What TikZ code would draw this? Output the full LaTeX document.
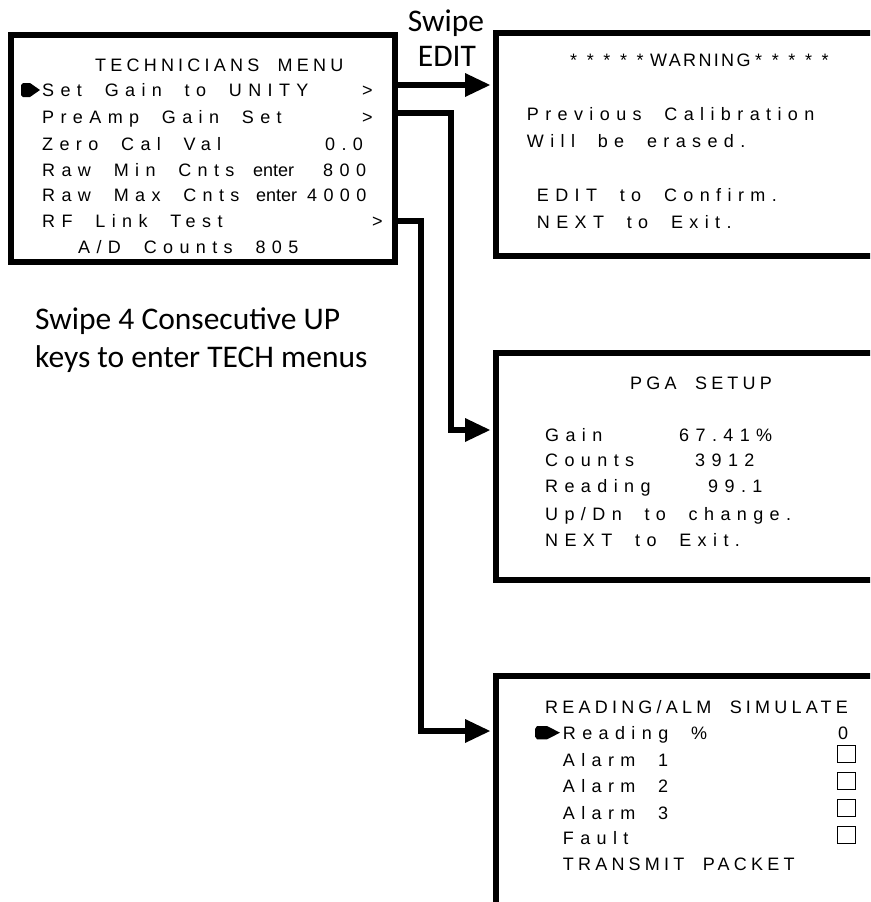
\documentclass[tikz,border=0pt]{standalone}
\usepackage{fontspec}
\usetikzlibrary{arrows.meta}
\newfontfamily\lcdL[LetterSpace=35.5,WordSpace=2]{Liberation Sans}
\newfontfamily\lcdU[LetterSpace=23.4,WordSpace=2]{Liberation Sans}
\newfontfamily\lcdW[LetterSpace=13]{Liberation Sans}
\newfontfamily\lcdP{Liberation Sans}
\newfontfamily\calib{Carlito}
\newcommand\lcdsize{\fontsize{18pt}{20pt}\selectfont}
\newcommand\starrow{*\hspace{9.6pt}*\hspace{9.6pt}*\hspace{9.6pt}*\hspace{9.6pt}*}
\tikzset{
  screen/.style={draw=black, line width=6pt, anchor=north west, outer sep=0pt, inner sep=0pt},
  txtL/.style={anchor=base west, inner sep=0pt, font=\lcdL\lcdsize},
  txtU/.style={anchor=base west, inner sep=0pt, font=\lcdU\lcdsize},
  txtW/.style={anchor=base west, inner sep=0pt, font=\lcdW\lcdsize},
  txtP/.style={anchor=base west, inner sep=0pt, font=\lcdP\lcdsize},
  conn/.style={line width=6pt, -{Triangle[length=25pt,width=24pt,line width=0pt]}, shorten >=6pt},
  note/.style={inner sep=0pt, font=\calib\fontsize{31.5pt}{36pt}\selectfont},
  chk/.style={draw=black, line width=1.3pt, minimum width=18pt, minimum height=17pt, inner sep=0pt, outer sep=0pt, anchor=north west}
}
\begin{document}
\begin{tikzpicture}[x=1pt, y=-1pt]
\useasboundingbox (0,0) rectangle (870,902);
\clip (0,0) rectangle (870,902);

% screens
\node[screen, minimum width=383.5pt, minimum height=226.7pt] (menu) at (11,35) {};
\node[screen, minimum width=420pt, minimum height=222.5pt] (warn) at (496,33) {};
\node[screen, minimum width=420pt, minimum height=227pt] (pga) at (496,353) {};
\node[screen, minimum width=420pt, minimum height=260pt] (sim) at (496,676) {};

% technicians menu
\node[txtU] (m0) at (95,71.7) {TECHNICIANS MENU};
\fill (21,85) -- (23,83) -- (30,83) -- (40,90) -- (30,97) -- (23,97) -- (21,95) -- cycle;
\node[txtL] (m1) at (42,96.7) {Set Gain to UNITY};
\node[txtL] (m1r) at (362,96.7) {>};
\node[txtL] (m2) at (42,123.3) {PreAmp Gain Set};
\node[txtL] (m2r) at (362,123.3) {>};
\node[txtL] (m3) at (42,150) {Zero Cal Val};
\node[txtL] (m3r) at (325,150) {0.0};
\node[txtL] (m4) at (42,176) {Raw Min Cnts};
\node[txtP] (m4e) at (253,176) {enter};
\node[txtL] (m4r) at (323,176) {800};
\node[txtL] (m5) at (42,201.7) {Raw Max Cnts};
\node[txtP] (m5e) at (256,201.7) {enter};
\node[txtL] (m5r) at (307,201.7) {4000};
\node[txtL] (m6) at (42,227.7) {RF Link Test};
\node[txtL] (m6r) at (372,227.7) {>};
\node[txtL] (m7) at (78,253) {A/D Counts 805};

% warning screen
\node[txtP] (w0a) at (570,66.7) {\starrow};
\node[txtW] (w0b) at (650,66.7) {WARNING};
\node[txtP] (w0c) at (755,66.7) {\starrow};
\node[txtL] (w1) at (526.7,120) {Previous Calibration};
\node[txtL] (w2) at (526.7,147.3) {Will be erased.};
\node[txtL] (w3) at (536.7,201.7) {EDIT to Confirm.};
\node[txtL] (w4) at (536.7,228.3) {NEXT to Exit.};

% PGA screen
\node[txtU] (p0) at (630,389.3) {PGA SETUP};
\node[txtL] (p1) at (545,441) {Gain};
\node[txtL] (p1r) at (679,441) {67.41\%};
\node[txtL] (p2) at (545,466.7) {Counts};
\node[txtL] (p2r) at (695,466.7) {3912};
\node[txtL] (p3) at (545,492.3) {Reading};
\node[txtL] (p3r) at (708,492.3) {99.1};
\node[txtL] (p4) at (545,520) {Up/Dn to change.};
\node[txtL] (p5) at (545,546) {NEXT to Exit.};

% simulate screen
\node[txtU] (s0) at (545,713.3) {READING/ALM SIMULATE};
\fill (535,729) -- (537,726) -- (547,726) -- (560,732.7) -- (547,739.3) -- (537,739.3) -- (535,736.5) -- cycle;
\node[txtL] (s1) at (562.7,739.3) {Reading \%};
\node[txtL] (s1r) at (838,739.3) {0};
\node[txtL] (s2) at (562.7,766) {Alarm 1};
\node[txtL] (s3) at (562.7,792.3) {Alarm 2};
\node[txtL] (s4) at (562.7,819) {Alarm 3};
\node[txtL] (s5) at (562.7,844) {Fault};
\node[txtU] (s6) at (562.7,870.7) {TRANSMIT PACKET};
\node[chk] (cb1) at (837.5,745.5) {};
\node[chk] (cb2) at (837.5,772.5) {};
\node[chk] (cb3) at (837.5,799.5) {};
\node[chk] (cb4) at (837.5,826.5) {};

% labels
\node[note, anchor=base] (lab1) at (446,31.7) {Swipe};
\node[note, anchor=base] (lab2) at (447,66.7) {EDIT};
\node[note, anchor=base west] (n1) at (35,329.3) {Swipe 4 Consecutive UP};
\node[note, anchor=base west] (n2) at (35,367.3) {keys to enter TECH menus};

% connectors
\coordinate (c1) at (394.5,85);
\coordinate (c2) at (394.5,113.3);
\coordinate (b2) at (450.5,430);
\coordinate (c3) at (394.5,221);
\coordinate (b3) at (421,731);
\draw[conn] (c1) -- (c1 -| warn.west);
\draw[conn] (c2) -| (b2) -- (b2 -| pga.west);
\draw[conn] (c3) -| (b3) -- (b3 -| sim.west);
\end{tikzpicture}
\end{document}
